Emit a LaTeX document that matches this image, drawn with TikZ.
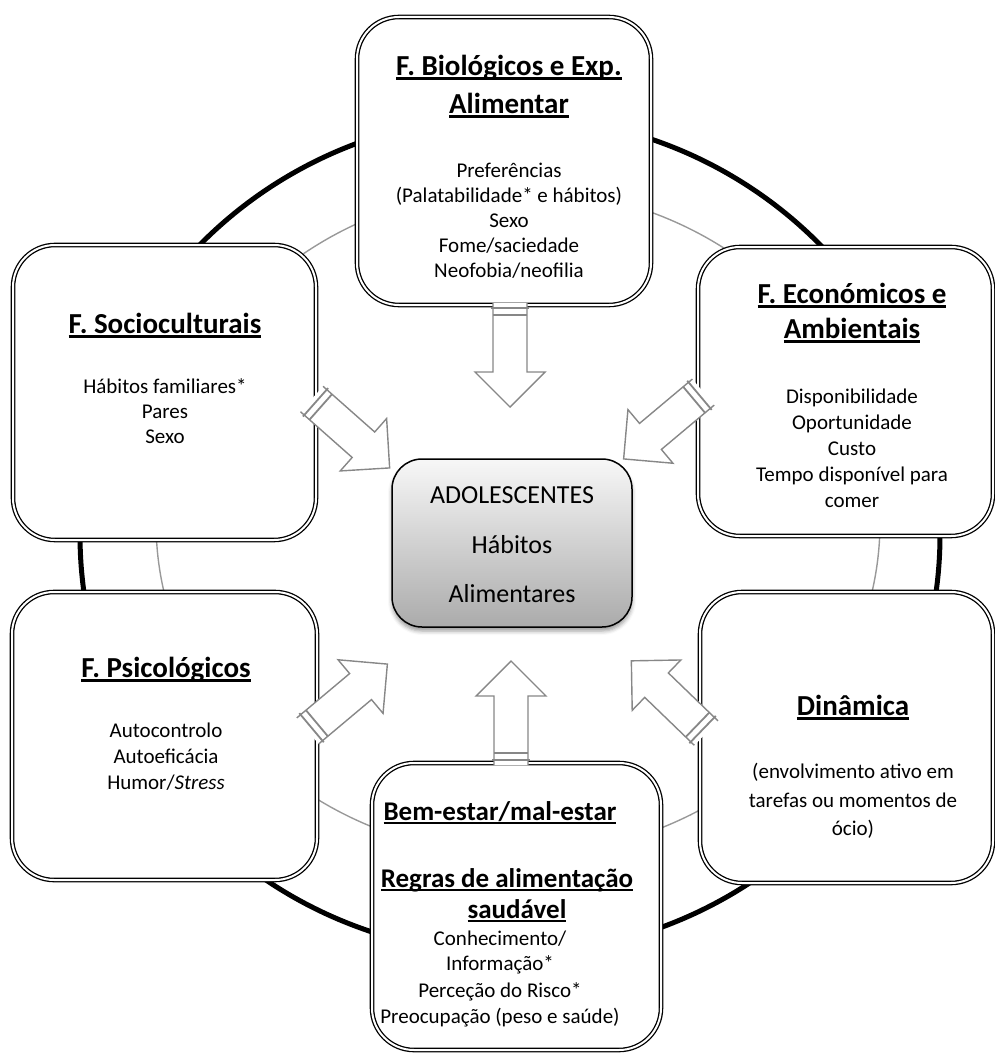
\documentclass[tikz,border=0pt]{standalone}
\usepackage{fontspec}
\setmainfont{Carlito}
\usetikzlibrary{shadows.blur}

% underline sitting just below the baseline (crosses descenders)
\newcommand\ulin[1]{\setbox0=\hbox{#1}\leavevmode\rlap{\copy0}\rule[-0.16em]{\wd0}{0.085em}}

\begin{document}
\begin{tikzpicture}[x=1pt,y=-1pt,
  ring/.style={line width=5pt, draw=black},
  innerring/.style={line width=1.4pt, draw=black!40},
  factor/.style={draw=black, double=white, double distance=2pt, line width=1.3pt,
    rounded corners=42pt, fill=white, inner sep=0pt},
  core/.style={draw=black, line width=1.5pt, rounded corners=30pt, inner sep=0pt,
    top color=black!3, bottom color=black!33,
    blur shadow={shadow xshift=0pt, shadow yshift=-4pt, shadow blur radius=4pt, shadow opacity=40}},
  title/.style={font=\fontsize{29}{35}\selectfont\bfseries, inner sep=0pt, anchor=base},
  subtitle/.style={font=\fontsize{27}{32}\selectfont\bfseries, inner sep=0pt, anchor=base},
  body/.style={font=\fontsize{21}{25}\selectfont, inner sep=0pt, anchor=base},
  coretext/.style={font=\fontsize{26}{31}\selectfont, inner sep=0pt, anchor=base},
  arrowline/.style={draw=black!47, line width=1.4pt, line join=miter},
  blockarrow/.pic={
    \fill[white] (-3,-17) -- (66,-17) -- (66,-35) -- (101,0) -- (66,35) -- (66,17) -- (-3,17) -- cycle;
    \draw[arrowline] (-3,-17) -- (66,-17) -- (66,-35) -- (101,0) -- (66,35) -- (66,17) -- (-3,17);
    \draw[arrowline, line width=1.8pt] (2,-19) -- (2,19) (9,-17) -- (9,17);
  }
]
\useasboundingbox (0,0) rectangle (994,1057);

% the two rings behind the boxes
\draw[ring] (510,535) ellipse [x radius=430, y radius=419];
\draw[innerring] (518,522) ellipse [x radius=362, y radius=333];

% factor boxes
\node[factor, minimum width=294pt, minimum height=288pt] (bio)   at (504,161) {};
\node[factor, minimum width=303pt, minimum height=295pt] (socio) at (164.5,392.5) {};
\node[factor, minimum width=295pt, minimum height=289pt] (econ)  at (845.5,391.5) {};
\node[factor, minimum width=293pt, minimum height=291pt] (din)   at (846.5,737.5) {};
\node[factor, minimum width=305pt, minimum height=288pt] (psy)   at (164.5,736) {};
\node[factor, minimum width=289pt, minimum height=287pt] (well)  at (516.5,906.5) {};

% block arrows pointing to the centre
\coordinate (tailN)  at (510,306);
\coordinate (tailS)  at (511,762);
\coordinate (tailNW) at (314,401);
\coordinate (tailNE) at (701,394);
\coordinate (tailSE) at (704,731);
\coordinate (tailSW) at (310,729);
\pic[rotate=-90]   at (tailN)  {blockarrow};
\pic[rotate=90]    at (tailS)  {blockarrow};
\pic[rotate=-41.5] at (tailNW) {blockarrow};
\pic[rotate=-140]  at (tailNE) {blockarrow};
\pic[rotate=136]   at (tailSE) {blockarrow};
\pic[rotate=40]    at (tailSW) {blockarrow};

% centre box
\node[core, minimum width=240pt, minimum height=168pt] (core) at (512,543) {};
\node[coretext] (coreA) at (512,503) {ADOLESCENTES};
\node[coretext] (coreB) at (512,553) {Hábitos};
\node[coretext] (coreC) at (512,602) {Alimentares};

% F. Biológicos
\node[title] (bioT1) at (509,75)  {\ulin{F. Biológicos e Exp.}};
\node[title] (bioT2) at (509,113) {\ulin{Alimentar}};
\node[body] (bio1) at (509,177) {Preferências};
\node[body] (bio2) at (509,202) {(Palatabilidade* e hábitos)};
\node[body] (bio3) at (509,227) {Sexo};
\node[body] (bio4) at (509,252) {Fome/saciedade};
\node[body] (bio5) at (509,277) {Neofobia/neofilia};

% F. Socioculturais
\node[title] (socT) at (165,333) {\ulin{F. Socioculturais}};
\node[body] (soc1) at (165,393) {Hábitos familiares*};
\node[body] (soc2) at (165,418) {Pares};
\node[body] (soc3) at (165,443) {Sexo};

% F. Económicos
\node[title] (ecoT1) at (852,303) {\ulin{F. Económicos e}};
\node[title] (ecoT2) at (852,338) {\ulin{Ambientais}};
\node[body] (eco1) at (852,403) {Disponibilidade};
\node[body] (eco2) at (852,429) {Oportunidade};
\node[body] (eco3) at (852,455) {Custo};
\node[body] (eco4) at (852,481) {Tempo disponível para};
\node[body] (eco5) at (852,507) {comer};

% Dinâmica
\node[title] (dinT) at (853,715) {\ulin{Dinâmica}};
\node[body] (din1) at (853,778) {(envolvimento ativo em};
\node[body] (din2) at (853,807) {tarefas ou momentos de};
\node[body] (din3) at (853,835) {ócio)};

% F. Psicológicos
\node[title] (psyT) at (166,677) {\ulin{F. Psicológicos}};
\node[body] (psy1) at (166,737) {Autocontrolo};
\node[body] (psy2) at (166,763) {Autoeficácia};
\node[body] (psy3) at (166,789) {Humor/\textit{Stress}};

% Bem-estar / Regras
\node[subtitle] (welT1) at (500,820) {\ulin{Bem-estar/mal-estar}};
\node[subtitle] (welT2) at (507,887) {\ulin{Regras de alimentação}};
\node[subtitle] (welT3) at (517,918) {\ulin{saudável}};
\node[body] (wel1) at (500,945)  {Conhecimento/};
\node[body] (wel2) at (500,970)  {Informação*};
\node[body] (wel3) at (500,997)  {Perceção do Risco*};
\node[body] (wel4) at (500,1023) {Preocupação (peso e saúde)};
\end{tikzpicture}
\end{document}
